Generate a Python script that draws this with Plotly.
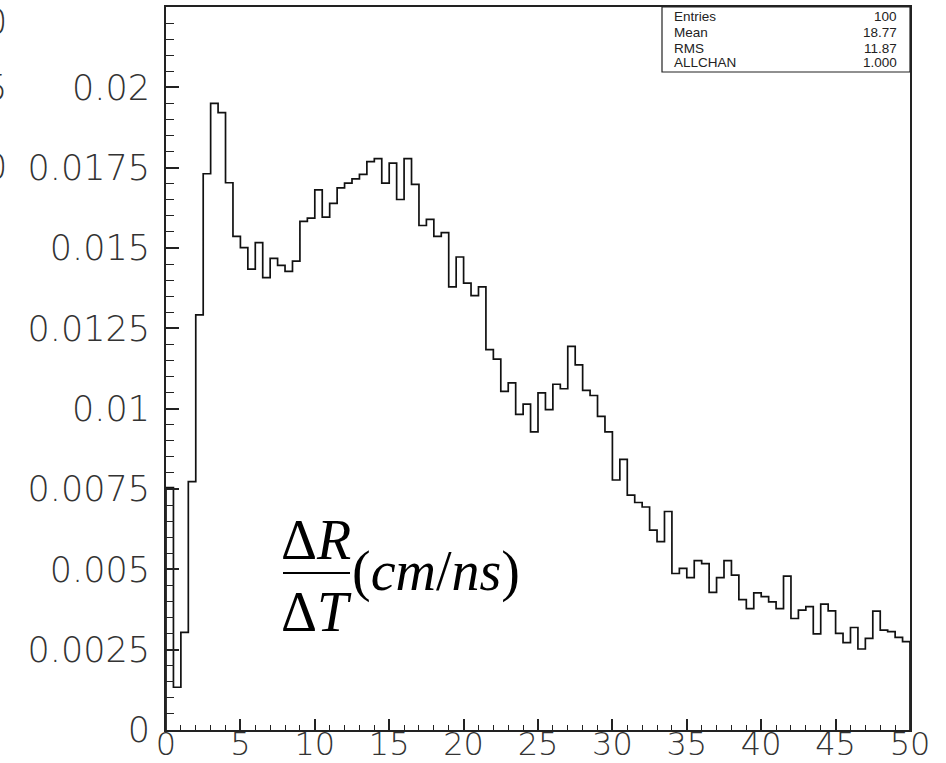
import plotly.graph_objects as go

# ---------------- data ----------------
x_min = 0.0
x_max = 50.0
n_bins = 100

bin_values = [
    0.00754, 0.00133, 0.00304, 0.00773, 0.01292, 0.01731, 0.01950, 0.01921, 0.01703, 0.01536,
    0.01501, 0.01434, 0.01517, 0.01408, 0.01468, 0.01446, 0.01427, 0.01459, 0.01583, 0.01593,
    0.01681, 0.01596, 0.01639, 0.01687, 0.01702, 0.01715, 0.01729, 0.01769, 0.01778, 0.01702,
    0.01764, 0.01651, 0.01778, 0.01698, 0.01570, 0.01589, 0.01536, 0.01548, 0.01379, 0.01472,
    0.01391, 0.01352, 0.01379, 0.01184, 0.01154, 0.01054, 0.01080, 0.00982, 0.01014, 0.00928,
    0.01049, 0.00997, 0.01076, 0.01062, 0.01194, 0.01136, 0.01057, 0.01041, 0.00976, 0.00928,
    0.00778, 0.00842, 0.00731, 0.00708, 0.00694, 0.00622, 0.00586, 0.00680, 0.00487, 0.00503,
    0.00474, 0.00527, 0.00518, 0.00428, 0.00474, 0.00527, 0.00482, 0.00406, 0.00378, 0.00427,
    0.00415, 0.00399, 0.00378, 0.00479, 0.00347, 0.00373, 0.00384, 0.00299, 0.00392, 0.00371,
    0.00301, 0.00272, 0.00319, 0.00252, 0.00285, 0.00370, 0.00311, 0.00306, 0.00288, 0.00275,
]

x_tick_values = [0, 5, 10, 15, 20, 25, 30, 35, 40, 45, 50]
x_tick_labels = ["0", "5", "10", "15", "20", "25", "30", "35", "40", "45", "50"]
y_tick_values = [0, 0.0025, 0.005, 0.0075, 0.01, 0.0125, 0.015, 0.0175, 0.02]
y_tick_labels = ["0", "0.0025", "0.005", "0.0075", "0.01", "0.0125", "0.015", "0.0175", "0.02"]
y_max = 0.0225

stat_names = ["Entries", "Mean", "RMS", "ALLCHAN"]
stat_values = ["100", "18.77", "11.87", "1.000"]

# ---------------- build step outline ----------------
bin_w = (x_max - x_min) / n_bins
edges = [x_min + i * bin_w for i in range(n_bins + 1)]
step_x = [x_min] + edges + [x_max]
step_y = [0.0] + bin_values + [bin_values[-1], 0.0]

fig = go.Figure()
fig.add_trace(go.Scatter(
    x=step_x, y=step_y, mode="lines", line_shape="hv",
    line=dict(color="#111111", width=1.7), hoverinfo="skip", showlegend=False,
))

tick_font = dict(family="DejaVu Sans", size=35, color="#333333", weight=200)
xtick_font = dict(family="DejaVu Sans", size=32, color="#333333", weight=200)

fig.update_xaxes(
    range=[x_min, x_max], tickmode="array", tickvals=x_tick_values, ticktext=x_tick_labels,
    ticks="inside", ticklen=11, tickwidth=1.5, tickcolor="#222222",
    minor=dict(dtick=1, tick0=0, ticks="inside", ticklen=5, tickwidth=1.3, tickcolor="#222222", showgrid=False),
    showline=True, linewidth=2, linecolor="#222222", mirror=True,
    showgrid=False, zeroline=False, tickfont=xtick_font, automargin=False,
    ticklabelstandoff=-15,
)
fig.update_yaxes(
    range=[0, y_max], tickmode="array", tickvals=y_tick_values, ticktext=y_tick_labels,
    ticks="inside", ticklen=13, tickwidth=1.5, tickcolor="#222222",
    minor=dict(dtick=0.0005, tick0=0, ticks="inside", ticklen=8, tickwidth=1.3, tickcolor="#222222", showgrid=False),
    showline=True, linewidth=2, linecolor="#222222", mirror=True,
    showgrid=False, zeroline=False, tickfont=tick_font, automargin=False,
    ticklabelstandoff=7,
)

PL, PR, PT, PB = 166, 910, 7, 730
W, H = 946, 763


def px(x):
    return (x - PL) / (PR - PL)


def py(y):
    return (PB - y) / (PB - PT)


shapes = []
annotations = []

# stats box
shapes.append(dict(type="rect", xref="paper", yref="paper",
                   x0=px(662), x1=1.0, y0=py(72), y1=1.0,
                   line=dict(color="#222222", width=1.2), fillcolor="white", layer="above"))
row_y = [17, 33, 48, 63]
for name, val, ry in zip(stat_names, stat_values, row_y):
    annotations.append(dict(xref="paper", yref="paper", x=px(672), y=py(ry), text=name,
                            showarrow=False, xanchor="left", yanchor="middle",
                            font=dict(family="Liberation Sans", size=13.5, color="#222222")))
    annotations.append(dict(xref="paper", yref="paper", x=px(899), y=py(ry), text=val,
                            showarrow=False, xanchor="right", yanchor="middle",
                            font=dict(family="Liberation Sans", size=13.5, color="#222222")))

# formula  dR/dT (cm/ns)
ffont = dict(family="Liberation Serif", size=56, color="black")
annotations.append(dict(xref="paper", yref="paper", x=px(316), y=py(540), text="Δ<i>R</i>",
                        showarrow=False, xanchor="center", yanchor="middle", font=ffont))
annotations.append(dict(xref="paper", yref="paper", x=px(316), y=py(612), text="Δ<i>T</i>",
                        showarrow=False, xanchor="center", yanchor="middle", font=ffont))
annotations.append(dict(xref="paper", yref="paper", x=px(350), y=py(571), text="(<i>cm</i>/<i>ns</i>)",
                        showarrow=False, xanchor="left", yanchor="middle", font=ffont))
shapes.append(dict(type="line", xref="paper", yref="paper", x0=px(283), x1=px(350),
                   y0=py(573), y1=py(573), line=dict(color="black", width=2)))

# partial labels cut by left edge of picture
for ty, tt in [(22, "0"), (88, "5"), (167, "0")]:
    annotations.append(dict(xref="paper", yref="paper", x=px(9), y=py(ty), text=tt,
                            showarrow=False, xanchor="right", yanchor="middle", font=tick_font))

fig.update_layout(
    width=W, height=H, template="none",
    margin=dict(l=PL, r=W - PR, t=PT, b=H - PB, pad=0),
    paper_bgcolor="white", plot_bgcolor="white",
    shapes=shapes, annotations=annotations, showlegend=False,
)

fig.write_html("out.html")
